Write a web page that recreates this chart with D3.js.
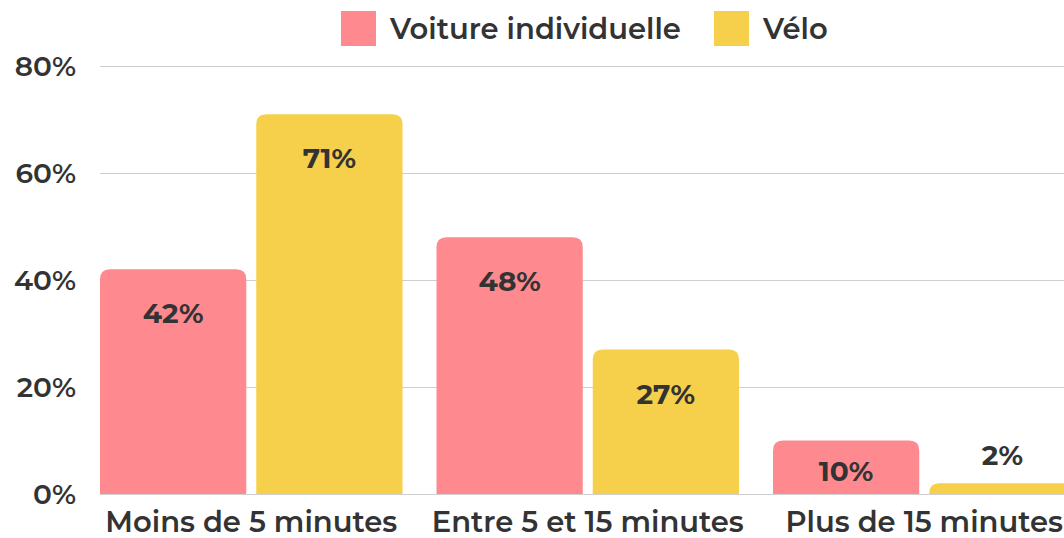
<!DOCTYPE html>
<html>
<head>
<meta charset="utf-8">
<script src="https://cdn.jsdelivr.net/npm/d3@7"></script>
<style>
  body { margin: 0; background: #fff; }
  text { font-family: "Montserrat", "Open Sans", sans-serif; fill: #333; }
</style>
</head>
<body>
<svg width="1064" height="538"></svg>
<script>
var categories = ["Moins de 5 minutes", "Entre 5 et 15 minutes", "Plus de 15 minutes"];
var series = ["Voiture individuelle", "Vélo"];
var voiture = [42, 48, 10];
var velo = [71, 27, 2];
var yTicks = [0, 20, 40, 60, 80];
var colors = ["#fe8a8f", "#f6d04b"];

var svg = d3.select("svg"),
    width = +svg.attr("width"),
    height = +svg.attr("height");

var left = 100, bottom = 494, plotTop = 66;

var y = d3.scaleLinear().domain([0, 80]).range([bottom, plotTop]);

var x0 = d3.scaleBand()
    .domain(categories)
    .range([left, 1075.5])
    .paddingInner(0.101)
    .paddingOuter(0);

var x1 = d3.scaleBand()
    .domain(series)
    .range([0, x0.bandwidth()])
    .paddingInner(0.064);

var color = d3.scaleOrdinal().domain(series).range(colors);

// gridlines
svg.append("g")
   .selectAll("line")
   .data(yTicks)
   .enter().append("line")
   .attr("x1", left)
   .attr("x2", width)
   .attr("y1", function(d) { return Math.round(y(d)) + 0.5; })
   .attr("y2", function(d) { return Math.round(y(d)) + 0.5; })
   .style("stroke", "#cfcfcf")
   .style("stroke-width", 1);

// y labels
svg.append("g")
   .selectAll("text")
   .data(yTicks)
   .enter().append("text")
   .attr("x", 76)
   .attr("y", function(d) { return y(d); })
   .attr("dy", "0.36em")
   .attr("text-anchor", "end")
   .style("font-size", "28px")
   .style("font-weight", "600")
   .text(function(d) { return d + "%"; });

var rows = categories.map(function(c, i) {
  return [
    {cat: c, s: series[0], v: voiture[i]},
    {cat: c, s: series[1], v: velo[i]}
  ];
});

// top-rounded bar path
function barPath(x, yy, w, h, r) {
  r = Math.min(r, h, w / 2);
  return "M" + x + "," + (yy + h) +
         "V" + (yy + r) +
         "Q" + x + "," + yy + " " + (x + r) + "," + yy +
         "H" + (x + w - r) +
         "Q" + (x + w) + "," + yy + " " + (x + w) + "," + (yy + r) +
         "V" + (yy + h) + "Z";
}

var groups = svg.append("g")
   .selectAll("g")
   .data(rows)
   .enter().append("g")
   .attr("transform", function(d, i) { return "translate(" + x0(categories[i]) + ",0)"; });

groups.selectAll("path")
   .data(function(d) { return d; })
   .enter().append("path")
   .attr("d", function(d) {
     return barPath(x1(d.s), y(d.v), x1.bandwidth(), bottom - y(d.v), 10);
   })
   .style("fill", function(d) { return color(d.s); });

groups.selectAll("text")
   .data(function(d) { return d; })
   .enter().append("text")
   .attr("x", function(d) { return x1(d.s) + x1.bandwidth() / 2; })
   .attr("y", function(d) {
     var h = bottom - y(d.v);
     if (h > 100) return y(d.v) + 44;
     if (h > 40) return y(d.v) + h / 2 + 4;
     return y(d.v) - 28;
   })
   .attr("dy", "0.36em")
   .attr("text-anchor", "middle")
   .style("font-size", "28px")
   .style("font-weight", "700")
   .text(function(d) { return d.v + "%"; });

// category labels
svg.append("g")
   .selectAll("text")
   .data(categories)
   .enter().append("text")
   .attr("x", function(d) { return x0(d) + x0.bandwidth() / 2; })
   .attr("y", 522)
   .attr("dy", "0.36em")
   .attr("text-anchor", "middle")
   .style("font-size", "29px")
   .style("font-weight", "600")
   .text(function(d) { return d; });

// legend
var legendX = [341, 714];
var leg = svg.append("g")
   .selectAll("g")
   .data(series)
   .enter().append("g")
   .attr("transform", function(d, i) { return "translate(" + legendX[i] + ",11)"; });

leg.append("rect")
   .attr("width", 35)
   .attr("height", 35)
   .style("fill", function(d) { return color(d); });

leg.append("text")
   .attr("x", 49)
   .attr("y", 18)
   .attr("dy", "0.36em")
   .style("font-size", "29px")
   .style("font-weight", "600")
   .text(function(d) { return d; });
</script>
</body>
</html>
